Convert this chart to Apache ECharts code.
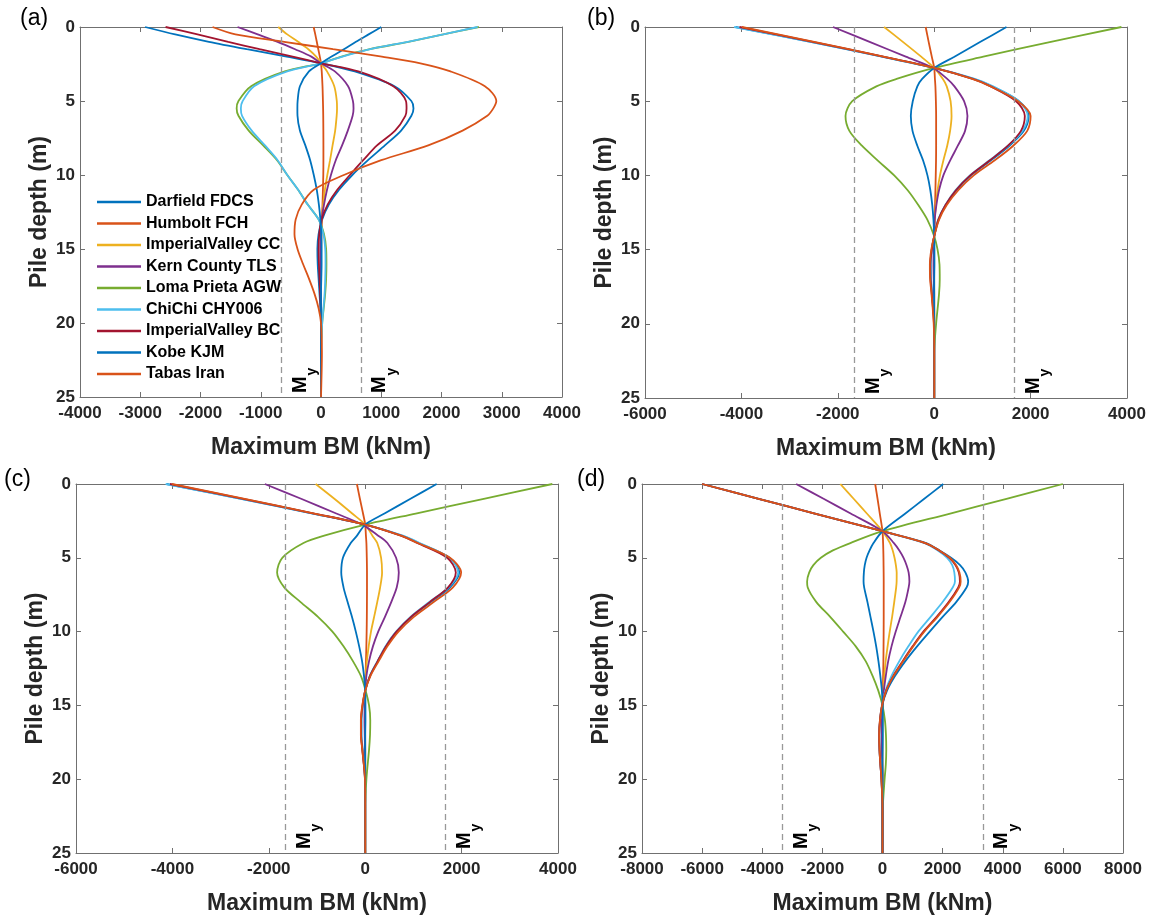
<!DOCTYPE html>
<html>
<head>
<meta charset="UTF-8">
<title>Maximum BM - pile depth</title>
<script src="https://cdn.jsdelivr.net/npm/echarts@6/dist/echarts.min.js"></script>
<style>
  html, body { margin: 0; padding: 0; background: #fff; }
  #chart { width: 1149px; height: 916px; }
</style>
</head>
<body>
<div id="chart"></div>
<script type="text/javascript">
// series names and MATLAB default colours (order repeats after 7)
var NAMES = ['Darfield FDCS', 'Humbolt FCH', 'ImperialValley CC', 'Kern County TLS', 'Loma Prieta AGW',
             'ChiChi CHY006', 'ImperialValley BC', 'Kobe KJM', 'Tabas Iran'];
var COLORS = ['#0072BD', '#D95319', '#EDB120', '#7E2F8E', '#77AC30', '#4DBEEE', '#A2142F', '#0072BD', '#D95319'];

// yield moment (dashed lines) per panel
var MY_A = 660, MY_B = 1660, MY_C = 1660, MY_D = 3340;

// ---- panel (a) ----
var DEPTH_A = [0, 0.5, 1, 1.5, 2, 2.45, 3, 4, 5, 5.5, 6, 7, 8, 9, 10, 11, 12, 13, 14, 15, 16, 17, 18, 19, 20, 22, 25];
var a_darfield = [-2920, -2420, -1860, -1230, -570, 0, 560, 1220, 1500, 1535, 1500, 1330, 1060, 780, 520, 300, 130, 20, -40, -60, -55, -40, -25, -10, 0, 0, 0];
var a_humbolt  = [-122, -95, -70, -45, -20, 0, 12, 25, 32, 35, 37, 39, 40, 40, 38, 32, 25, 15, 8, 3, 0, 0, 0, 0, 0, 0, 0];
var a_ivcc     = [-710, -560, -380, -210, -80, 0, 100, 220, 262, 266, 260, 235, 192, 150, 105, 65, 35, 10, 0, -3, -3, 0, 0, 0, 0, 0, 0];
var a_kern     = [-1385, -1050, -720, -430, -160, 0, 230, 450, 530, 540, 525, 445, 350, 245, 165, 100, 50, 10, -5, -10, -10, -5, 0, 0, 0, 0, 0];
var a_loma     = [2620, 2030, 1450, 810, 340, 0, -600, -1160, -1370, -1400, -1370, -1200, -960, -730, -560, -380, -220, -40, 50, 85, 90, 85, 70, 45, 20, 0, 0];
var a_chichi   = [2600, 2030, 1440, 820, 357, 0, -560, -1110, -1300, -1330, -1310, -1150, -930, -720, -560, -380, -220, -40, 40, 70, 75, 70, 60, 40, 20, 0, 0];
var a_ivbc     = [-2580, -2050, -1540, -1020, -470, 0, 620, 1200, 1410, 1420, 1400, 1230, 930, 700, 480, 270, 110, 10, -30, -40, -35, -25, -15, -5, 0, 0, 0];
var a_kobe     = [1000, 790, 580, 380, 175, 0, -200, -350, -388, -392, -390, -350, -260, -180, -120, -70, -35, -10, 5, 10, 10, 5, 0, 0, 0, 0, 0];
var a_tabas    = [-1800, -1420, -610, 200, 1010, 1650, 2150, 2720, 2910, 2860, 2760, 2350, 1780, 1000, 380, -120, -320, -420, -440, -390, -300, -200, -110, -40, 0, 15, 0];

// ---- panel (b) ----
var DEPTH_B = [0, 1, 2, 2.76, 3.5, 4, 5, 6, 7, 8, 9, 10, 11, 12, 13, 14.1, 15, 16, 17, 18, 20, 22, 25];
var b_darfield = [-4120, -2560, -1080, 0, 820, 1200, 1760, 1960, 1860, 1560, 1170, 760, 460, 240, 90, 0, -50, -75, -70, -45, 0, 0, 0];
var b_humbolt  = [-177, -115, -50, 0, 15, 25, 35, 40, 40, 40, 38, 32, 25, 18, 10, 0, -5, -5, -5, 0, 0, 0, 0];
var b_ivcc     = [-1040, -650, -270, 0, 180, 260, 340, 360, 330, 270, 190, 120, 70, 35, 10, 0, -5, -5, 0, 0, 0, 0, 0];
var b_kern     = [-2100, -1340, -590, -20, 270, 420, 620, 690, 640, 490, 330, 190, 100, 45, 10, 0, -10, -15, -10, -5, 0, 0, 0];
var b_loma     = [3885, 2420, 1020, 0, -780, -1200, -1700, -1840, -1760, -1500, -1170, -830, -550, -330, -140, 0, 70, 110, 115, 100, 40, 0, 0];
var b_chichi   = [-4150, -2570, -1090, 0, 840, 1220, 1760, 1940, 1830, 1530, 1140, 740, 440, 230, 80, 0, -45, -70, -65, -40, 0, 0, 0];
var b_ivbc     = [-4040, -2520, -1060, 0, 800, 1170, 1700, 1880, 1800, 1530, 1150, 750, 450, 235, 85, 0, -50, -80, -75, -50, -5, 0, 0];
var b_kobe     = [1500, 960, 420, 0, -250, -350, -445, -485, -450, -350, -230, -140, -80, -40, -15, 0, 5, 5, 0, 0, 0, 0, 0];
var b_tabas    = [-3990, -2490, -1050, 0, 790, 1170, 1740, 2000, 1930, 1640, 1250, 820, 500, 260, 100, 0, -60, -90, -85, -55, -10, 0, 0];

// ---- panel (c) ----
var DEPTH_C = [0, 1, 2, 2.75, 3.5, 4, 5, 6, 7, 8, 9, 10, 11, 12, 13, 14, 15, 16, 17, 18, 20, 22, 25];
var c_darfield = [-4120, -2570, -1080, 0, 760, 1110, 1745, 1950, 1760, 1360, 960, 650, 430, 262, 100, 0, -50, -80, -80, -55, -5, 0, 0];
var c_humbolt  = [-172, -110, -45, 0, 15, 25, 33, 37, 37, 36, 34, 30, 24, 16, 8, 0, -5, -5, -3, 0, 0, 0, 0];
var c_ivcc     = [-1028, -640, -270, 0, 150, 250, 330, 350, 310, 250, 185, 120, 72, 35, 10, 0, -5, -5, 0, 0, 0, 0, 0];
var c_kern     = [-2083, -1330, -600, -60, 270, 460, 641, 697, 655, 540, 410, 270, 160, 80, 25, 0, -10, -15, -10, -5, 0, 0, 0];
var c_loma     = [3883, 2460, 1048, 0, -850, -1280, -1720, -1828, -1680, -1340, -980, -680, -450, -255, -90, 10, 80, 105, 100, 80, 25, 0, 0];
var c_chichi   = [-4140, -2580, -1090, 0, 780, 1130, 1750, 1930, 1730, 1330, 940, 640, 420, 255, 95, 0, -45, -75, -75, -50, 0, 0, 0];
var c_ivbc     = [-4050, -2530, -1060, 0, 740, 1080, 1700, 1880, 1720, 1340, 950, 650, 430, 260, 100, 0, -55, -85, -85, -60, -5, 0, 0];
var c_kobe     = [1483, 940, 400, 0, -170, -300, -462, -497, -450, -365, -275, -195, -125, -65, -25, 0, 5, 5, 0, 0, 0, 0, 0];
var c_tabas    = [-4010, -2500, -1050, 0, 740, 1090, 1760, 1990, 1820, 1420, 1010, 690, 460, 280, 110, 0, -60, -90, -90, -60, -5, 0, 0];

// ---- panel (d) ----
var DEPTH_D = [0, 1, 2, 3.2, 4, 4.5, 5, 5.5, 6, 6.6, 7, 8, 9, 10, 11, 12, 13, 14, 15, 16, 17, 18, 19, 20, 22, 25];
var d_darfield = [-6000, -4120, -2250, 0, 1450, 1900, 2280, 2580, 2760, 2850, 2800, 2450, 2000, 1570, 1150, 760, 420, 150, -10, -80, -110, -100, -70, -35, 0, 0];
var d_humbolt  = [-243, -165, -90, 0, 20, 27, 32, 35, 38, 40, 40, 40, 40, 38, 35, 30, 22, 12, 3, -3, -5, -5, -3, 0, 0, 0];
var d_ivcc     = [-1403, -960, -520, 0, 250, 340, 400, 445, 472, 470, 455, 390, 320, 240, 170, 105, 60, 25, 0, -10, -12, -10, -5, 0, 0, 0];
var d_kern     = [-2873, -1960, -1060, 0, 380, 560, 700, 800, 870, 895, 870, 760, 600, 440, 300, 190, 110, 45, 0, -20, -25, -20, -10, 0, 0, 0];
var d_loma     = [6000, 4125, 2250, 0, -1070, -1650, -2050, -2300, -2440, -2508, -2490, -2200, -1740, -1310, -890, -560, -330, -140, 0, 80, 115, 125, 110, 70, 10, 0];
var d_chichi   = [-6000, -4120, -2250, 0, 1400, 1840, 2150, 2320, 2390, 2410, 2340, 2000, 1600, 1190, 860, 560, 300, 100, -20, -80, -100, -90, -60, -30, 0, 0];
var d_ivbc     = [-6000, -4120, -2250, 0, 1420, 1880, 2220, 2430, 2540, 2575, 2520, 2200, 1800, 1360, 1000, 670, 360, 120, -15, -85, -110, -100, -70, -35, 0, 0];
var d_kobe     = [2022, 1390, 760, 0, -300, -430, -530, -590, -620, -630, -610, -500, -400, -300, -210, -135, -72, -20, 5, 10, 10, 5, 0, 0, 0, 0];
var d_tabas    = [-6000, -4120, -2250, 0, 1430, 1890, 2240, 2450, 2560, 2600, 2550, 2230, 1830, 1390, 1020, 690, 370, 125, -15, -85, -110, -100, -70, -35, 0, 0];

var FONT = '"Liberation Sans", Arial, Helvetica, sans-serif';
var AXIS_GRAY = '#707070';
var TEXT_DARK = '#262626';

var panels = [
  {label: '(a)', depth: DEPTH_A, my: MY_A, xmin: -4000, xmax: 4000, step: 1000,
   bm: [a_darfield, a_humbolt, a_ivcc, a_kern, a_loma, a_chichi, a_ivbc, a_kobe, a_tabas],
   grid: {left: 80, top: 27, width: 482, height: 370}, lab: [20, 7]},
  {label: '(b)', depth: DEPTH_B, my: MY_B, xmin: -6000, xmax: 4000, step: 2000,
   bm: [b_darfield, b_humbolt, b_ivcc, b_kern, b_loma, b_chichi, b_ivbc, b_kobe, b_tabas],
   grid: {left: 645, top: 27, width: 482, height: 371}, lab: [587, 7]},
  {label: '(c)', depth: DEPTH_C, my: MY_C, xmin: -6000, xmax: 4000, step: 2000,
   bm: [c_darfield, c_humbolt, c_ivcc, c_kern, c_loma, c_chichi, c_ivbc, c_kobe, c_tabas],
   grid: {left: 76, top: 484, width: 482, height: 370}, lab: [4, 468]},
  {label: '(d)', depth: DEPTH_D, my: MY_D, xmin: -8000, xmax: 8000, step: 2000,
   bm: [d_darfield, d_humbolt, d_ivcc, d_kern, d_loma, d_chichi, d_ivbc, d_kobe, d_tabas],
   grid: {left: 642, top: 484, width: 481, height: 370}, lab: [577, 468]}
];

function plain(v) { return String(v); }

var grids = [], xAxes = [], yAxes = [], series = [], titles = [];

panels.forEach(function (p, k) {
  grids.push(p.grid);
  titles.push({text: p.label, left: p.lab[0], top: p.lab[1], padding: 0,
               textStyle: {fontFamily: FONT, fontSize: 23, fontWeight: 'normal', color: '#000'}});
  // bottom axis with labels, top axis only for the box ticks
  xAxes.push({
    gridIndex: k, type: 'value', position: 'bottom', min: p.xmin, max: p.xmax, interval: p.step,
    name: 'Maximum BM (kNm)', nameLocation: 'middle', nameGap: 39,
    nameTextStyle: {fontFamily: FONT, fontSize: 23, fontWeight: 'bold', color: TEXT_DARK},
    axisLine: {show: true, onZero: false, lineStyle: {color: AXIS_GRAY, width: 1}},
    axisTick: {show: true, inside: true, length: 5, lineStyle: {color: AXIS_GRAY}},
    axisLabel: {fontFamily: FONT, fontSize: 17, fontWeight: 'bold', color: TEXT_DARK, margin: 8, formatter: plain},
    splitLine: {show: false}
  });
  xAxes.push({
    gridIndex: k, type: 'value', position: 'top', min: p.xmin, max: p.xmax, interval: p.step,
    axisLine: {show: true, onZero: false, lineStyle: {color: AXIS_GRAY, width: 1}},
    axisTick: {show: true, inside: true, length: 5, lineStyle: {color: AXIS_GRAY}},
    axisLabel: {show: false}, splitLine: {show: false}
  });
  yAxes.push({
    gridIndex: k, type: 'value', position: 'left', inverse: true, min: 0, max: 25, interval: 5,
    name: 'Pile depth (m)', nameLocation: 'middle', nameGap: 29, nameRotate: 90,
    nameTextStyle: {fontFamily: FONT, fontSize: 23, fontWeight: 'bold', color: TEXT_DARK},
    axisLine: {show: true, onZero: false, lineStyle: {color: AXIS_GRAY, width: 1}},
    axisTick: {show: true, inside: true, length: 5, lineStyle: {color: AXIS_GRAY}},
    axisLabel: {fontFamily: FONT, fontSize: 17, fontWeight: 'bold', color: TEXT_DARK, margin: 5, formatter: plain},
    splitLine: {show: false}
  });
  yAxes.push({
    gridIndex: k, type: 'value', position: 'right', inverse: true, min: 0, max: 25, interval: 5,
    axisLine: {show: true, onZero: false, lineStyle: {color: AXIS_GRAY, width: 1}},
    axisTick: {show: true, inside: true, length: 5, lineStyle: {color: AXIS_GRAY}},
    axisLabel: {show: false}, splitLine: {show: false}
  });

  p.bm.forEach(function (vals, i) {
    var s = {
      name: NAMES[i], type: 'line', xAxisIndex: 2 * k, yAxisIndex: 2 * k,
      data: p.depth.map(function (d, j) { return [vals[j], d]; }),
      smooth: 0.3, symbol: 'none', silent: true,
      lineStyle: {color: COLORS[i], width: 1.8},
      itemStyle: {color: COLORS[i]}
    };
    if (i === 0) {
      // dashed yield-moment lines
      s.markLine = {
        silent: true, symbol: 'none', animation: false,
        label: {show: false},
        lineStyle: {color: '#999', type: [6, 4], width: 1.3},
        data: [{xAxis: -p.my}, {xAxis: p.my}]
      };
    }
    series.push(s);
  });
});

var chart = echarts.init(document.getElementById('chart'));
chart.setOption({
  animation: false,
  backgroundColor: '#fff',
  title: titles,
  grid: grids,
  xAxis: xAxes,
  yAxis: yAxes,
  legend: {
    data: NAMES, orient: 'vertical', left: 97, top: 194, padding: 0,
    icon: 'rect', itemWidth: 44, itemHeight: 2.4, itemGap: 5.5, selectedMode: false,
    textStyle: {fontFamily: FONT, fontSize: 16, fontWeight: 'bold', color: '#000'}
  },
  series: series
});

// "My" labels beside each dashed line, placed through the axes
var labels = [];
panels.forEach(function (p, k) {
  [-p.my, p.my].forEach(function (v) {
    var pt = chart.convertToPixel({xAxisIndex: 2 * k, yAxisIndex: 2 * k}, [v, 25]);
    labels.push({type: 'text', x: pt[0] + 29, y: pt[1] - 4, rotation: Math.PI / 2, silent: true,
      style: {text: 'M', fill: '#000', font: 'bold 20px ' + FONT, align: 'left', verticalAlign: 'bottom'}});
    labels.push({type: 'text', x: pt[0] + 38, y: pt[1] - 21.5, rotation: Math.PI / 2, silent: true,
      style: {text: 'y', fill: '#000', font: 'bold 14px ' + FONT, align: 'left', verticalAlign: 'bottom'}});
  });
});
chart.setOption({graphic: labels});
</script>
</body>
</html>
